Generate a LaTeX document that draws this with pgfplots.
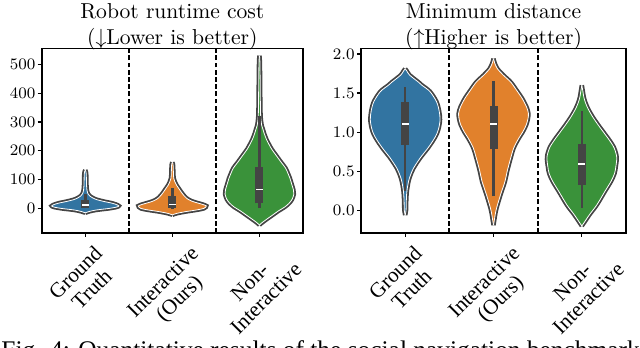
\documentclass[border=0pt]{standalone}
\usepackage{fontspec}
\usepackage{graphicx}
\usepackage{pgfplots}
\usepackage{pgfplotstable}
\pgfplotsset{compat=1.18}
\usepgfplotslibrary{fillbetween}
\newfontfamily\timesfont{Liberation Serif}

\definecolor{vblue}{HTML}{3274A1}
\definecolor{vorange}{HTML}{E1812C}
\definecolor{vgreen}{HTML}{3A923A}
\definecolor{vgray}{HTML}{444444}

% violin profiles: y value, half width (category units)
\pgfplotstableread{
y w
-15 0
-10 0.05
-5 0.13
0 0.27
5 0.36
9 0.385
14 0.355
19 0.30
24 0.22
30 0.14
36 0.09
44 0.05
52 0.03
62 0.02
80 0.015
100 0.013
118 0.012
128 0.008
133 0
}\costgt
\pgfplotstableread{
y w
-22 0
-17 0.05
-11 0.15
-5 0.28
0 0.36
5 0.385
9 0.39
14 0.35
20 0.28
26 0.22
34 0.17
46 0.13
58 0.10
69 0.075
80 0.05
92 0.03
105 0.016
125 0.012
145 0.01
155 0.007
160 0
}\costint
\pgfplotstableread{
y w
-57 0
-48 0.035
-38 0.08
-23 0.15
-8 0.22
5 0.29
18 0.34
32 0.375
50 0.395
65 0.39
85 0.37
105 0.35
120 0.33
140 0.30
160 0.25
185 0.19
206 0.14
225 0.105
240 0.08
260 0.055
275 0.04
290 0.025
320 0.014
380 0.01
450 0.008
510 0.005
530 0
}\costnon
\pgfplotstableread{
y w
-0.06 0
0.0 0.01
0.1 0.012
0.2 0.016
0.25 0.02
0.37 0.038
0.45 0.06
0.54 0.095
0.67 0.17
0.80 0.26
0.90 0.32
0.97 0.355
1.05 0.38
1.16 0.395
1.27 0.385
1.39 0.355
1.52 0.28
1.60 0.19
1.64 0.15
1.73 0.05
1.78 0.02
1.81 0
}\distgt
\pgfplotstableread{
y w
-0.19 0
-0.12 0.01
-0.05 0.02
0.03 0.035
0.20 0.08
0.37 0.13
0.50 0.155
0.67 0.195
0.80 0.23
0.92 0.285
1.00 0.33
1.09 0.37
1.17 0.39
1.24 0.395
1.32 0.375
1.43 0.325
1.53 0.265
1.64 0.195
1.73 0.11
1.81 0.045
1.88 0.015
1.94 0
}\distint
\pgfplotstableread{
y w
-0.20 0
-0.15 0.03
-0.05 0.09
0.07 0.17
0.24 0.26
0.37 0.33
0.47 0.37
0.56 0.385
0.68 0.395
0.80 0.365
0.90 0.31
1.00 0.245
1.10 0.18
1.20 0.12
1.30 0.07
1.38 0.04
1.45 0.022
1.52 0.012
1.60 0
}\distnon

% #1 position, #2 table, #3 colour
\newcommand\violin[3]{%
  \addplot[vgray, line width=2.2pt, smooth, on layer=axis background, name path=vr#1] table[x expr=#1+\thisrow{w}, y=y] {#2};
  \addplot[vgray, line width=2.2pt, smooth, on layer=axis background, name path=vl#1] table[x expr=#1-\thisrow{w}, y=y] {#2};
  \addplot[#3, on layer=pre main] fill between[of=vr#1 and vl#1];
  \addplot[white, line width=0.4pt, smooth] table[x expr=#1+\thisrow{w}, y=y] {#2};
  \addplot[white, line width=0.4pt, smooth] table[x expr=#1-\thisrow{w}, y=y] {#2};
}
% #1 position, whisker low, q1, median, q3, whisker high
\newcommand\innerbox[6]{%
  \addplot[vgray, line width=1.3pt] coordinates {(#1,#2) (#1,#6)};
  \addplot[vgray, line width=4pt] coordinates {(#1,#3) (#1,#5)};
  \addplot[white, only marks, mark=-, mark size=1.7pt, mark options={line width=0.9pt}] coordinates {(#1,#4)};
}
\newcommand\rl[2]{\rotatebox{45}{\timesfont\fontsize{10.6}{11.5}\selectfont\begin{tabular}{@{}c@{}}#1\\#2\end{tabular}}}

\pgfplotsset{violinaxis/.style={
  set layers, scale only axis, height=92.25pt,
  xmin=-0.5, xmax=2.5, xtick={0,1,2},
  xticklabels={\rl{Ground}{Truth}, \rl{Interactive}{(Ours)}, \rl{Non-}{Interactive}},
  xticklabel style={anchor=north, inner sep=0pt, yshift=-3pt},
  yticklabel style={font=\fontsize{7.6}{9}\selectfont, inner sep=0pt, xshift=-1pt},
  axis line style={line width=0.9pt},
  tick style={black, line width=0.6pt}, major tick length=2pt, tick align=outside,
  xtick pos=left, ytick pos=left,
  title style={font=\fontsize{10.8}{13.3}\selectfont, align=center, inner sep=0pt, anchor=south, at={(0.5,1)}, yshift=-7pt},
  sep/.style={black, line width=0.9pt, dash pattern=on 2.4pt off 1.2pt, on layer=axis background},
}}

\begin{document}
\begin{tikzpicture}
\begin{axis}[violinaxis, at={(20.85pt,57pt)}, anchor=south west, width=130.65pt,
  ymin=-85, ymax=555, ytick={0,100,200,300,400,500},
  title={Robot runtime cost\\($\downarrow$Lower is better)}]
  \addplot[sep] coordinates {(0.5,-85) (0.5,555)};
  \addplot[sep] coordinates {(1.5,-85) (1.5,555)};
  \violin{0}{\costgt}{vblue}
  \innerbox{0}{0}{2}{13}{28}{50}
  \violin{1}{\costint}{vorange}
  \innerbox{1}{-3}{3}{14}{45}{72}
  \violin{2}{\costnon}{vgreen}
  \innerbox{2}{1}{18}{66}{143}{320}
\end{axis}
\begin{axis}[violinaxis, at={(180.5pt,57pt)}, anchor=south west, width=132.5pt,
  ymin=-0.29, ymax=2.07, ytick={0,0.5,1,1.5,2},
  yticklabel={\pgfmathprintnumber[fixed, fixed zerofill, precision=1]{\tick}},
  title={Minimum distance\\($\uparrow$Higher is better)}]
  \addplot[sep] coordinates {(0.5,-0.29) (0.5,2.07)};
  \addplot[sep] coordinates {(1.5,-0.29) (1.5,2.07)};
  \violin{0}{\distgt}{vblue}
  \innerbox{0}{0.25}{0.84}{1.10}{1.38}{1.58}
  \violin{1}{\distint}{vorange}
  \innerbox{1}{0.18}{0.78}{1.10}{1.33}{1.66}
  \violin{2}{\distnon}{vgreen}
  \innerbox{2}{0.03}{0.33}{0.59}{0.85}{1.27}
\end{axis}
\node[anchor=base west, inner sep=0pt, font=\timesfont\fontsize{12.7}{15}\selectfont] at (0.5pt,-5.5pt) {Fig. 4: Quantitative results of the social navigation benchmark};
\pgfresetboundingbox
\path[use as bounding box] (0,0) rectangle (320pt,173.5pt);
\end{tikzpicture}
\end{document}
